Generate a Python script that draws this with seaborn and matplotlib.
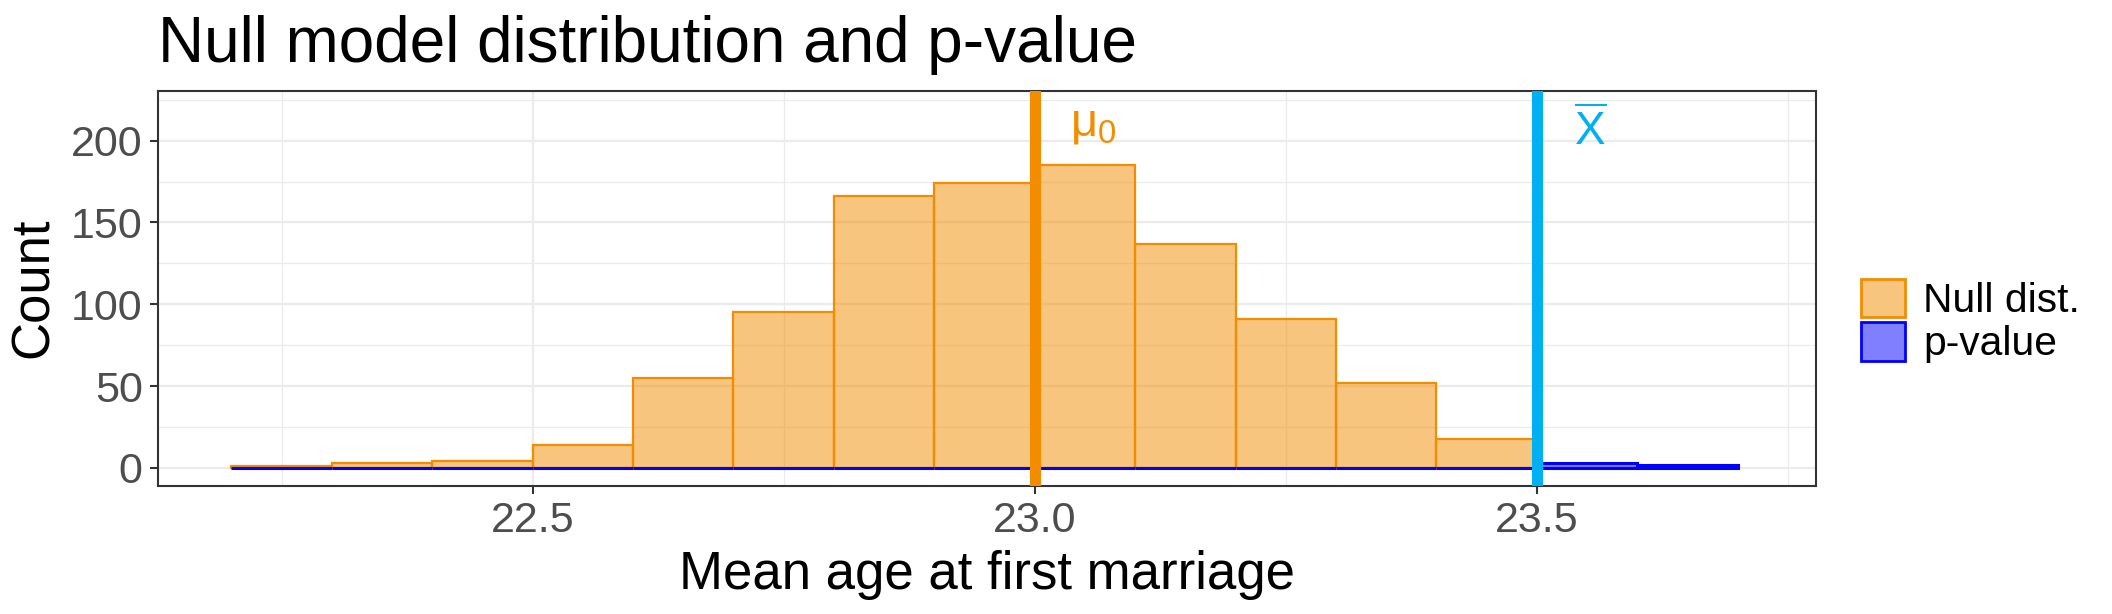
"""Null model distribution histogram with p-value tail."""

import matplotlib
matplotlib.use("Agg")
import matplotlib.pyplot as plt
from matplotlib.colors import to_rgba
from matplotlib.patches import Patch
from matplotlib.ticker import MultipleLocator
import seaborn as sns

# bin edges and counts
BIN_EDGES = [22.2, 22.3, 22.4, 22.5, 22.6, 22.7, 22.8, 22.9,
             23.0, 23.1, 23.2, 23.3, 23.4, 23.5, 23.6, 23.7]
BIN_MIDS = [22.25, 22.35, 22.45, 22.55, 22.65, 22.75, 22.85,
            22.95, 23.05, 23.15, 23.25, 23.35, 23.45, 23.55, 23.65]
NULL_COUNTS = [1, 3, 4, 14, 55, 95, 166, 174, 185, 137, 91, 52, 18, 0, 0]
PVAL_COUNTS = [0, 0, 0, 0, 0, 0, 0, 0, 0, 0, 0, 0, 0, 3, 2]

MU0 = 23.0
XBAR = 23.5
LEGEND_LABELS = ["Null dist.", "p-value"]

ORANGE = "#F28C00"
BLUE = "#0000FF"
SKY = "#00B0F0"
GRID = "#EBEBEB"
DARK = "#333333"

sns.set_style("white")
plt.rcParams["font.family"] = ["Liberation Sans", "DejaVu Sans"]
plt.rcParams["text.color"] = "black"
plt.rcParams["mathtext.fontset"] = "custom"
plt.rcParams["mathtext.rm"] = "Liberation Sans"
plt.rcParams["mathtext.it"] = "Liberation Sans:italic"

W, H = 2112, 614
fig = plt.figure(figsize=(W / 100, H / 100), dpi=100)
ax = fig.add_axes([158 / W, 1 - 486 / H, (1816 - 158) / W, (486 - 90.7) / H])

sns.histplot(x=BIN_MIDS, weights=NULL_COUNTS, bins=BIN_EDGES, ax=ax,
             facecolor=to_rgba(ORANGE, 0.5), edgecolor=ORANGE, linewidth=1.6,
             zorder=3)
sns.histplot(x=BIN_MIDS, weights=PVAL_COUNTS, bins=BIN_EDGES, ax=ax,
             facecolor=to_rgba(BLUE, 0.5), edgecolor=BLUE, linewidth=2.2,
             zorder=4)

ax.axvline(MU0, color=ORANGE, linewidth=8, zorder=5)
ax.axvline(XBAR, color=SKY, linewidth=8, zorder=5)
ax.text(MU0 + 0.058, 210, r"$\mathrm{\mu}_{\mathrm{0}}$", color=ORANGE,
        fontsize=34, ha="center", va="center", zorder=6)
ax.text(XBAR + 0.053, 205, r"$\overline{\mathrm{X}}$", color=SKY,
        fontsize=33, ha="center", va="center", zorder=6)

ax.set_xlim(22.127, 23.778)
ax.set_ylim(-11, 230.5)
ax.xaxis.set_minor_locator(MultipleLocator(0.25))
ax.yaxis.set_minor_locator(MultipleLocator(25))
ax.set_xticks([22.5, 23.0, 23.5])
ax.set_xticklabels(["22.5", "23.0", "23.5"])
ax.set_yticks([0, 50, 100, 150, 200])

ax.grid(which="major", color=GRID, linewidth=1.6, zorder=0)
ax.grid(which="minor", color=GRID, linewidth=0.9, zorder=0)
ax.set_axisbelow(True)
for s in ax.spines.values():
    s.set_color(DARK)
    s.set_linewidth(1.5)
ax.tick_params(which="major", length=5.5, width=1.5, color=DARK,
               labelsize=31, labelcolor="#4D4D4D", pad=5.5,
               bottom=True, left=True)
ax.tick_params(which="minor", length=0, bottom=False, left=False)
ax.set_xlabel("")
ax.set_ylabel("")

fig.text(987 / W, 1 - 589 / H, "Mean age at first marriage", fontsize=38,
         ha="center", va="baseline")
fig.text(34 / W, 1 - 288 / H, "Count", fontsize=38, rotation=90,
         ha="center", va="center")
fig.text(158 / W, 1 - 62 / H, "Null model distribution and p-value",
         fontsize=46, ha="left", va="baseline")

handles = [
    Patch(facecolor=to_rgba(ORANGE, 0.5), edgecolor=ORANGE, linewidth=2),
    Patch(facecolor=to_rgba(BLUE, 0.5), edgecolor=BLUE, linewidth=2),
]
fig.legend(handles, LEGEND_LABELS, loc="center left",
           bbox_to_anchor=(1861 / W, 1 - 321 / H), frameon=False,
           fontsize=29.3, handlelength=1.08, handleheight=1.08,
           handletextpad=0.45, labelspacing=0.05, borderpad=0,
           borderaxespad=0)

fig.savefig("out.png", dpi=100)
plt.close(fig)
